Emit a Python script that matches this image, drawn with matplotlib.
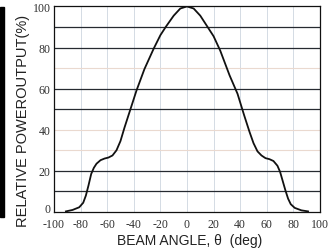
import numpy as np
import matplotlib
matplotlib.use("Agg")
from matplotlib import pyplot as plt
from matplotlib.patches import Rectangle
from matplotlib.transforms import ScaledTranslation

# beam profile (angle in deg, relative power in %)
angles = [-91, -86, -81, -78, -76, -74, -72, -70, -68, -65, -62, -59, -56, -53,
          -50, -47, -43, -38, -32, -25, -20, -16, -10, -5, 0,
          5, 10, 16, 20, 25, 32, 38, 43, 47, 50, 53, 56, 59, 62, 65,
          68, 70, 72, 74, 76, 78, 81, 86, 91]
power = [0.3, 1.0, 2.3, 4.5, 8, 13, 18.5, 21.5, 23.5, 25.2, 26, 26.5, 27.5, 30,
         34.5, 41, 49, 59, 69.5, 79.5, 86, 90, 95.5, 99, 100,
         99, 95.5, 89.5, 85.5, 78.5, 66.5, 57.5, 47, 39, 33.5, 29.5, 27.5, 26.2, 25.7, 24.8,
         22.5, 19.5, 15, 10.5, 6.5, 3.8, 2, 0.8, 0.3]

x_ticks = [-100, -80, -60, -40, -20, 0, 20, 40, 60, 80, 100]
x_labels = ["-100", "-80", "-60", "-40", "-20", "0", "20", "40", "60", "80", "100"]
y_ticks = [0, 20, 40, 60, 80, 100]
y_labels = ["0", "20", "40", "60", "80", "100"]
dark_rows = [10, 20, 50, 60, 80, 90]
faint_rows = [30, 40, 70]
faint_cols = [-80, -60, -40, -20, 0, 20, 40, 60, 80]

fig = plt.figure(figsize=(3.33, 2.51), dpi=100)
ax = fig.add_axes([0.162, 0.1514, 0.799, 0.819])

for c in faint_cols:
    ax.axvline(c, color="#d4dbe4", lw=0.7, zorder=1)
for r in faint_rows:
    ax.axhline(r, color="#ead9cf", lw=0.8, zorder=1)
for r in dark_rows:
    ax.axhline(r, color="#262a30", lw=0.9, zorder=2)

ax.plot(angles, power, color="#111111", lw=1.3, zorder=3)

ax.set_xlim(-100, 100)
ax.set_ylim(0, 100)
ax.set_xticks(x_ticks)
ax.set_xticklabels(x_labels)
ax.set_yticks(y_ticks)
ax.set_yticklabels(y_labels)
ax.tick_params(length=0, labelsize=8.6, labelcolor="#333333",
               labelfontfamily="Liberation Serif")
ax.tick_params(axis="x", pad=4.5)
ax.tick_params(axis="y", pad=2.5)
# the 0 on the y axis sits a little above the axis line
lab0 = ax.get_yticklabels()[0]
lab0.set_transform(lab0.get_transform() + ScaledTranslation(0, 3 / 72, fig.dpi_scale_trans))
for s in ax.spines.values():
    s.set_color("#111111")
    s.set_linewidth(0.9)

ax.set_ylabel("RELATIVE POWEROUTPUT(%)", family="Liberation Sans", fontsize=10.5,
              color="#222222")
ax.yaxis.set_label_coords(-0.09, 0.45)
ax.set_xlabel("BEAM ANGLE, \u03b8  (deg)", family="Liberation Sans", fontsize=10,
              color="#222222", va="center")
ax.xaxis.set_label_coords(0.511, -0.136)

# black strip along the left edge of the scan
fig.add_artist(Rectangle((0, 0.1315), 4 / 333, 0.837, transform=fig.transFigure,
                         color="black"))

fig.savefig("out.png", dpi=100)
